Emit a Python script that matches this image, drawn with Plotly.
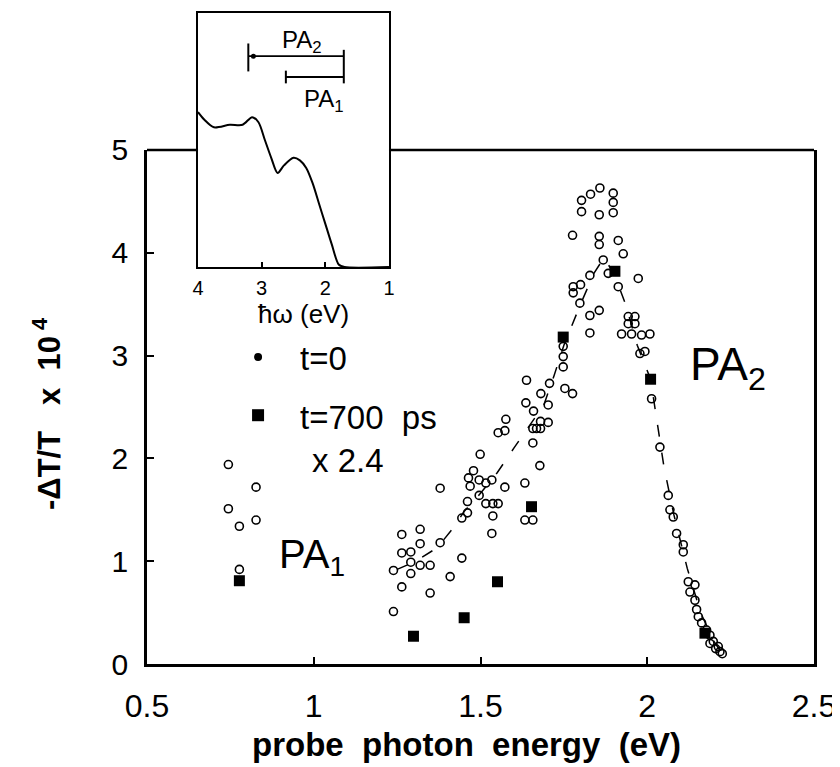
import plotly.graph_objects as go

# ---------------- data ----------------
# t = 0 (open circles)
t0_x = [0.744, 0.744, 0.777, 0.827, 0.827, 0.777,
        1.239, 1.239, 1.264, 1.264, 1.264, 1.291, 1.291, 1.291, 1.319, 1.319, 1.319,
        1.349, 1.349, 1.379, 1.379, 1.409, 1.444, 1.444, 1.461, 1.461, 1.464, 1.479,
        1.469, 1.496, 1.496, 1.499, 1.516, 1.516, 1.534, 1.537, 1.537, 1.553, 1.534,
        1.573, 1.553, 1.573, 1.576, 1.633, 1.633, 1.657, 1.678, 1.657, 1.657, 1.668,
        1.680, 1.680, 1.703, 1.636, 1.659, 1.703, 1.681, 1.707, 1.638, 1.753, 1.776,
        1.803, 1.830, 1.858, 1.898, 1.898, 1.898, 1.803, 1.856, 1.776, 1.856, 1.856,
        1.913, 1.928, 1.868, 1.828, 1.883, 1.973, 1.913, 1.778, 1.778, 1.800, 1.798,
        1.828, 1.856, 1.943, 1.963, 1.943, 1.963, 1.828, 1.923, 1.953, 1.983, 2.008,
        1.978, 1.993, 1.748, 1.748, 1.748,
        2.013, 2.038, 2.063, 2.068, 2.078, 2.088, 2.108, 2.108, 2.123, 2.143, 2.128,
        2.143, 2.148, 2.153, 2.163, 2.178, 2.188, 2.198, 2.213, 2.188, 2.205, 2.218, 2.225]
t0_y = [1.94, 1.51, 1.34, 1.72, 1.40, 0.92,
        0.51, 0.91, 0.75, 1.08, 1.26, 1.09, 0.99, 0.88, 1.31, 1.17, 0.96,
        0.96, 0.69, 1.18, 1.71, 0.85, 1.03, 1.42, 1.47, 1.58, 1.81, 1.88,
        1.73, 1.79, 1.64, 2.04, 1.76, 1.56, 1.79, 1.56, 1.44, 1.56, 1.27,
        1.72, 2.25, 2.27, 2.38, 1.76, 1.40, 1.40, 1.93, 2.15, 2.29, 2.29,
        2.29, 2.36, 2.35, 2.54, 2.46, 2.52, 2.63, 2.73, 2.76, 2.68, 2.63,
        4.51, 4.57, 4.63, 4.58, 4.49, 4.39, 4.40, 4.37, 4.17, 4.16, 4.08,
        4.12, 3.99, 3.93, 3.78, 3.80, 3.75, 3.67, 3.67, 3.61, 3.69, 3.51,
        3.39, 3.44, 3.38, 3.38, 3.31, 3.31, 3.22, 3.21, 3.21, 3.20, 3.21,
        3.02, 3.04, 3.09, 2.99, 2.89,
        2.58, 2.11, 1.64, 1.50, 1.43, 1.27, 1.16, 1.09, 0.80, 0.77, 0.70,
        0.62, 0.53, 0.46, 0.40, 0.33, 0.28, 0.22, 0.17, 0.20, 0.15, 0.12, 0.10]

# t = 700 ps, x 2.4 (filled squares)
t700_x = [0.777, 1.299, 1.451, 1.551, 1.653, 1.748, 1.903, 2.010, 2.173]
t700_y = [0.81, 0.27, 0.45, 0.80, 1.53, 3.18, 3.82, 2.77, 0.30]

# dashed guide through the t=0 data
guide_x = [1.25, 1.30, 1.36, 1.39, 1.42, 1.45, 1.50, 1.55, 1.60, 1.65, 1.69, 1.72, 1.75,
           1.80, 1.84, 1.87, 1.90, 1.935, 1.97, 2.01, 2.03, 2.05, 2.08, 2.12, 2.16, 2.20, 2.22]
guide_y = [0.92, 0.99, 1.11, 1.21, 1.33, 1.48, 1.66, 1.86, 2.10, 2.33, 2.52, 2.80, 3.10,
           3.50, 3.80, 3.95, 3.80, 3.50, 3.10, 2.77, 2.32, 1.92, 1.45, 0.93, 0.50, 0.22, 0.12]

x_ticks = [0.5, 1, 1.5, 2, 2.5]
x_ticktext = ["0.5", "1", "1.5", "2", "2.5"]
y_ticks = [0, 1, 2, 3, 4, 5]

# inset: absorption spectrum (relative units)
abs_x = [4.0, 3.9, 3.75, 3.5, 3.3, 3.15, 3.05, 2.95, 2.85, 2.75, 2.65, 2.5, 2.4, 2.3,
         2.2, 2.1, 2.0, 1.9, 1.79, 1.7, 1.0]
abs_y = [0.61, 0.58, 0.55, 0.56, 0.56, 0.59, 0.57, 0.50, 0.43, 0.37, 0.40, 0.43, 0.42, 0.39,
         0.33, 0.25, 0.17, 0.09, 0.01, 0.0, 0.0]
inset_ticks = [4, 3, 2, 1]
pa2_range = [3.21, 1.71]
pa1_range = [2.62, 1.71]
pa2_level = 0.83
pa1_level = 0.748

FONT = "Liberation Sans"

fig = go.Figure()

fig.add_trace(go.Scatter(x=guide_x, y=guide_y, mode="lines",
                         line=dict(color="black", width=1.5, dash="12px,16px"),
                         showlegend=False, hoverinfo="skip"))
fig.add_trace(go.Scatter(x=t0_x, y=t0_y, mode="markers", name="t=0",
                         marker=dict(symbol="circle-open", size=8, color="black",
                                     line=dict(width=1.6, color="black")),
                         showlegend=False))
fig.add_trace(go.Scatter(x=t700_x, y=t700_y, mode="markers", name="t=700 ps x 2.4",
                         marker=dict(symbol="square", size=11, color="black"),
                         showlegend=False))

# inset traces
fig.add_trace(go.Scatter(x=abs_x, y=abs_y, mode="lines", xaxis="x2", yaxis="y2",
                         line=dict(color="black", width=2, shape="spline", smoothing=0.8),
                         showlegend=False, hoverinfo="skip"))
fig.add_trace(go.Scatter(x=pa2_range, y=[pa2_level, pa2_level], mode="lines", xaxis="x2", yaxis="y2",
                         line=dict(color="black", width=1.8), showlegend=False))
fig.add_trace(go.Scatter(x=pa1_range, y=[pa1_level, pa1_level], mode="lines", xaxis="x2", yaxis="y2",
                         line=dict(color="black", width=1.8), showlegend=False))
fig.add_trace(go.Scatter(x=[pa2_range[0] - 0.08], y=[pa2_level], mode="markers", xaxis="x2", yaxis="y2",
                         marker=dict(size=5, color="black"), showlegend=False))

shapes = []
# end caps of the inset bars
shapes.append(dict(type="line", xref="x2", yref="y2", x0=pa2_range[0], x1=pa2_range[0],
                   y0=pa2_level - 0.06, y1=pa2_level + 0.05, line=dict(color="black", width=2)))
shapes.append(dict(type="line", xref="x2", yref="y2", x0=pa1_range[0], x1=pa1_range[0],
                   y0=pa1_level - 0.025, y1=pa1_level + 0.025, line=dict(color="black", width=2)))
shapes.append(dict(type="line", xref="x2", yref="y2", x0=pa1_range[1], x1=pa1_range[1],
                   y0=pa1_level - 0.025, y1=pa2_level + 0.025, line=dict(color="black", width=2)))

MAIN_TOP = 0.7896
INSET_X = [0.0765, 0.3628]
INSET_Y = [0.6098, 1.0]
# top frame line of the main plot, interrupted by the inset
shapes.append(dict(type="line", xref="paper", yref="paper", x0=0, x1=INSET_X[0],
                   y0=MAIN_TOP, y1=MAIN_TOP, line=dict(color="black", width=2.5)))
shapes.append(dict(type="line", xref="paper", yref="paper", x0=INSET_X[1], x1=1,
                   y0=MAIN_TOP, y1=MAIN_TOP, line=dict(color="black", width=2.5)))
# legend symbols
shapes.append(dict(type="circle", xref="x", yref="y", xsizemode="pixel", ysizemode="pixel",
                   xanchor=0.833, yanchor=2.986, x0=-4, x1=4, y0=-4, y1=4,
                   fillcolor="black", line=dict(width=0)))
shapes.append(dict(type="rect", xref="x", yref="y", xsizemode="pixel", ysizemode="pixel",
                   xanchor=0.833, yanchor=2.42, x0=-6, x1=6, y0=-6, y1=6,
                   fillcolor="black", line=dict(width=0)))


def ann(x, y, text, size, xref="x", yref="y", xanchor="center", weight="normal", angle=0):
    return dict(x=x, y=y, xref=xref, yref=yref, text=text, showarrow=False,
                xanchor=xanchor, yanchor="middle", textangle=angle,
                font=dict(family=FONT, size=size, color="black", weight=weight))


annotations = [
    ann(0.953, 2.967, "t=0", 33, xanchor="left"),
    ann(0.953, 2.40, "t=700\u00a0\u00a0ps", 33, xanchor="left"),
    ann(0.989, 1.975, "x 2.4", 33, xanchor="left"),
    ann(0.995, 1.04, "PA<sub>1</sub>", 40),
    ann(2.242, 2.88, "PA<sub>2</sub>", 46),
    ann(2.37, 0.886, "PA<sub>2</sub>", 24, xref="x2", yref="y2"),
    ann(2.02, 0.657, "PA<sub>1</sub>", 24, xref="x2", yref="y2"),
    ann(0.234, 0.5376, "ħω\u00a0(eV)", 26, xref="paper", yref="paper"),
    ann(1.457, -0.1244, "probe\u00a0\u00a0photon\u00a0\u00a0energy\u00a0\u00a0(eV)", 33,
        yref="paper", weight="bold"),
    ann(-0.15, 0.384, "-ΔT/T\u00a0\u00a0\u00a0x\u00a0\u00a010<sup>\u00a04</sup>", 31,
        xref="paper", yref="paper", weight="bold", angle=-90),
]

fig.update_layout(
    width=832, height=759,
    margin=dict(l=139, r=26, t=5, b=103, autoexpand=False),
    paper_bgcolor="white", plot_bgcolor="white",
    showlegend=False,
    xaxis=dict(domain=[0, 1], anchor="y", range=[0.5, 2.5], tickvals=x_ticks, ticktext=x_ticktext,
               ticks="inside", ticklen=7, tickwidth=1.5, tickcolor="black",
               showline=True, linewidth=2.5, linecolor="black", mirror=False,
               showgrid=False, zeroline=False, ticklabelstandoff=12, automargin=False,
               tickfont=dict(family=FONT, size=32, color="black")),
    yaxis=dict(domain=[0, MAIN_TOP], anchor="x", range=[0, 5], tickvals=y_ticks,
               ticks="inside", ticklen=7, tickwidth=1.5, tickcolor="black",
               showline=True, linewidth=2.5, linecolor="black", mirror=True,
               showgrid=False, zeroline=False, ticklabelstandoff=10, automargin=False,
               tickfont=dict(family=FONT, size=30, color="black")),
    xaxis3=dict(overlaying="x", anchor="y", side="top", range=[0.5, 2.5], tickvals=[1.5, 2.0],
                ticks="inside", ticklen=7, tickwidth=1.5, tickcolor="black", automargin=False,
                showticklabels=False, showline=False, showgrid=False, zeroline=False),
    xaxis2=dict(domain=INSET_X, anchor="y2", range=[4, 1], tickvals=inset_ticks,
                ticks="inside", ticklen=5, tickwidth=1.5, tickcolor="black",
                showline=True, linewidth=2, linecolor="black", mirror=True,
                showgrid=False, zeroline=False, ticklabelstandoff=2, automargin=False,
                tickfont=dict(family=FONT, size=20, color="black")),
    yaxis2=dict(domain=INSET_Y, anchor="x2", range=[0, 1], tickvals=[0.46],
                ticks="outside", ticklen=6, tickwidth=1.5, tickcolor="black", automargin=False,
                showticklabels=False, showline=True, linewidth=2, linecolor="black", mirror="ticks",
                showgrid=False, zeroline=False),
    shapes=shapes,
    annotations=annotations,
)

fig.write_html("out.html")
